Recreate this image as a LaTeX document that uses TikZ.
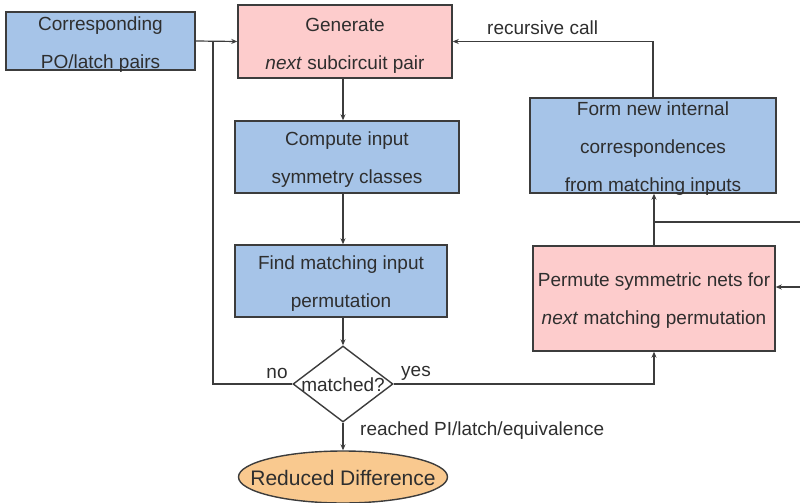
\documentclass[tikz,border=0pt]{standalone}
\usepackage{fontspec}
\setmainfont{Liberation Sans}
\usetikzlibrary{shapes.geometric,arrows.meta}
\definecolor{boxblue}{HTML}{A6C4E8}
\definecolor{boxpink}{HTML}{FDCCCC}
\definecolor{boxorange}{HTML}{F9C98F}
\definecolor{edge}{HTML}{3C3C3C}
\definecolor{ink}{HTML}{2E2E2E}
\tikzset{
  basebox/.style={draw=edge, line width=1.4pt, inner sep=0pt},
  bluebox/.style={basebox, fill=boxblue},
  pinkbox/.style={basebox, fill=boxpink},
  boxtext/.style={inner sep=0pt, align=center, text=ink,
    font=\fontsize{19}{38}\selectfont},
  wire/.style={draw=edge, line width=1.2pt},
  arr/.style={wire, -{Stealth[length=6pt,width=5pt]}},
  lbl/.style={text=ink, font=\fontsize{19}{23}\selectfont, inner sep=0pt}
}
\begin{document}
\begin{tikzpicture}[x=1pt,y=-1pt]
\useasboundingbox (0,0) rectangle (800,503);

% process boxes
\node[bluebox, minimum width=189pt, minimum height=58pt] (corr) at (100.5,41) {};
\node[pinkbox, minimum width=214pt, minimum height=73pt] (gen) at (345,41.5) {};
\node[bluebox, minimum width=224pt, minimum height=72pt] (comp) at (347,157) {};
\node[bluebox, minimum width=212pt, minimum height=72pt] (find) at (341,281) {};
\node[bluebox, minimum width=246pt, minimum height=95pt] (form) at (653,145.5) {};
\node[pinkbox, minimum width=242pt, minimum height=105pt] (perm) at (654,298.5) {};

% box captions, set a little below centre
\node[boxtext] (corrtext) at ([yshift=-4pt]corr.center) {Corresponding\\PO/latch pairs};
\node[boxtext] (gentext) at ([yshift=-4pt]gen.center) {Generate\\\textit{next} subcircuit pair};
\node[boxtext] (comptext) at ([yshift=-3pt]comp.center) {Compute input\\symmetry classes};
\node[boxtext] (findtext) at ([yshift=-3pt]find.center) {Find matching input\\permutation};
\node[boxtext] (formtext) at ([yshift=-3pt]form.center) {Form new internal\\correspondences\\from matching inputs};
\node[boxtext] (permtext) at ([yshift=-2pt]perm.center) {Permute symmetric nets for\\\textit{next} matching permutation};

% decision and terminal
\node[draw=edge, line width=1.4pt, fill=white, diamond, inner sep=0pt,
  minimum width=100pt, minimum height=76pt] (dia) at (343,384) {};
\node[lbl] (diatext) at ([yshift=-1pt]dia.center) {matched?};
\node[draw=edge, line width=1.4pt, fill=boxorange, ellipse, inner sep=0pt,
  minimum width=209pt, minimum height=52pt] (red) at (343,477) {};
\node[text=ink, font=\fontsize{21}{25}\selectfont, inner sep=0pt]
  (redtext) at ([yshift=-1pt]red.center) {Reduced Difference};

% junction and free ends
\coordinate (jn) at (213,41);
\coordinate (rin1) at (800,222);
\coordinate (rin2) at (800,287);

% main flow
\draw[arr] (corr.east) -- (gen.west);
\draw[arr] (gen.south -| dia.north) -- (comp.north -| dia.north);
\draw[arr] (comp.south -| dia.north) -- (find.north -| dia.north);
\draw[arr] (find.south -| dia.north) -- (dia.north);
\draw[arr] (dia.south) -- (red.north);

% branches
\draw[wire] (dia.west) -| (jn);
\draw[arr] (dia.east) -| (perm.south);
\draw[arr] (perm.north) -- (perm.north |- form.south);
\draw[arr] (form.north) |- (gen.east);
\draw[wire] (rin1) -- (rin1 -| perm.north);
\draw[arr] (rin2) -- (rin2 -| perm.east);

% edge labels
\node[lbl] (nolbl) at (277,373) {no};
\node[lbl] (yeslbl) at (416,373) {yes};
\node[lbl, anchor=west] (reachlbl) at (360,431) {reached PI/latch/equivalence};
\node[lbl, anchor=west] (reclbl) at (487,28) {recursive call};
\end{tikzpicture}
\end{document}
